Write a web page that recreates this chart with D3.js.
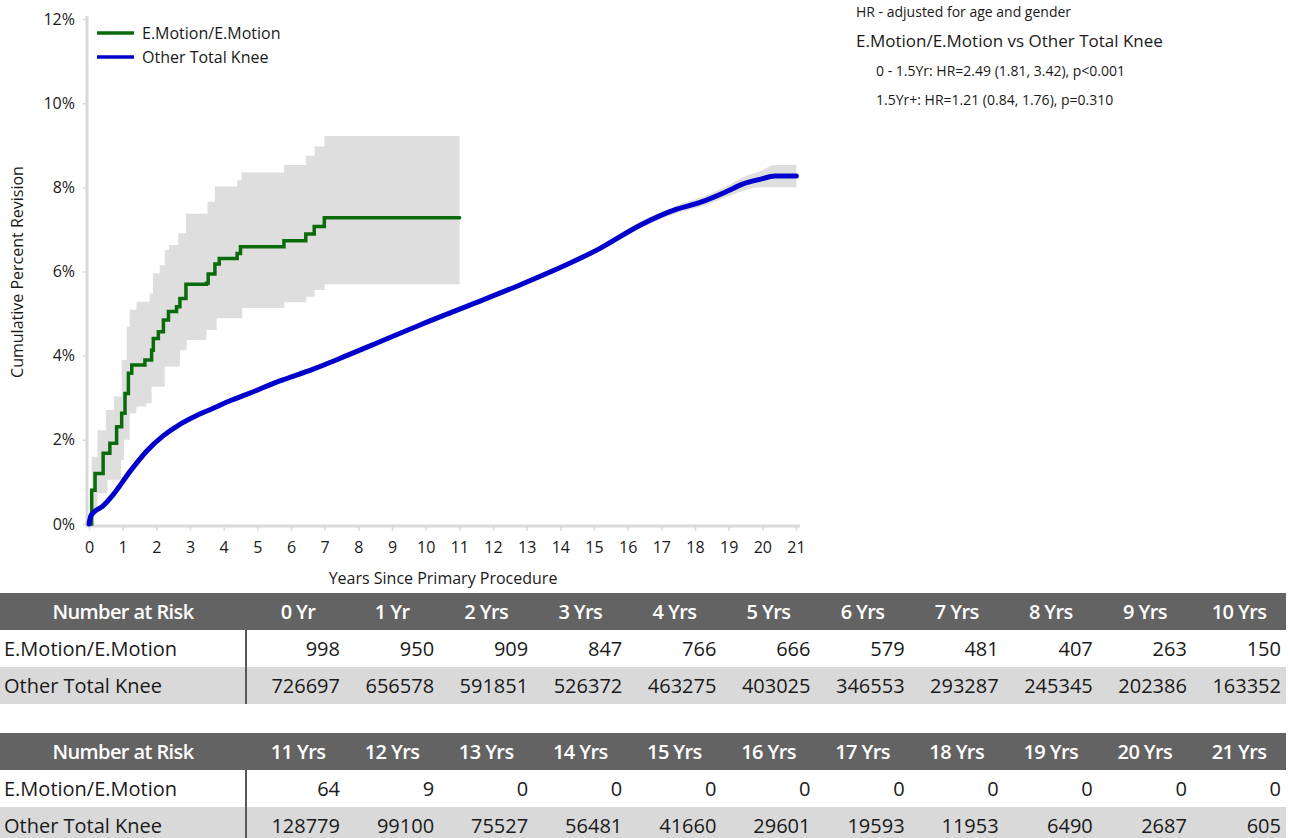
<!DOCTYPE html>
<html>
<head>
<meta charset="utf-8">
<script src="https://cdn.jsdelivr.net/npm/d3@7"></script>
<style>
  body { margin: 0; background: #fff; }
  svg text { font-family: "Open Sans", "Noto Sans", sans-serif; fill: #1a1a1a; }
</style>
</head>
<body>
<div id="chart"></div>
<script>
// E.Motion/E.Motion - step curve and its confidence band (years, % revised)
var emYears = [0, 0.08, 0.18, 0.42, 0.62, 0.82, 0.97, 1.07, 1.17, 1.27, 1.66, 1.86, 1.91, 2.06, 2.21, 2.36, 2.6, 2.7, 2.88, 3.49, 3.54, 3.74, 3.87, 4.4, 4.5, 5.79, 6.44, 6.69, 6.99, 11.01];
var emPct   = [0, 0.8, 1.2, 1.68, 1.92, 2.31, 2.63, 3.1, 3.58, 3.78, 3.9, 4.13, 4.41, 4.57, 4.85, 5.05, 5.16, 5.36, 5.7, 5.72, 5.94, 6.18, 6.31, 6.43, 6.59, 6.73, 6.89, 7.07, 7.28, 7.28];
var emUpYears = [0, 0.08, 0.25, 0.5, 0.74, 0.97, 1.12, 1.21, 1.41, 1.8, 1.9, 2.1, 2.25, 2.38, 2.65, 2.88, 3.52, 3.74, 4.4, 4.53, 5.79, 6.44, 6.7, 6.99, 11.01];
var emUpPct   = [0, 1.6, 2.23, 2.71, 3.03, 3.9, 4.69, 5.09, 5.28, 5.48, 5.96, 6.15, 6.51, 6.63, 6.91, 7.37, 7.66, 8.02, 8.17, 8.35, 8.53, 8.75, 8.97, 9.22, 9.22];
var emLoYears = [0, 0.08, 0.25, 0.55, 0.95, 1.04, 1.21, 1.41, 1.7, 1.86, 2.25, 2.7, 2.9, 3.49, 3.79, 4.55, 5.8, 6.46, 6.7, 7.0, 11.01];
var emLoPct   = [0, 0.26, 0.73, 1.05, 1.52, 2.0, 2.63, 2.79, 2.87, 3.26, 3.74, 4.13, 4.37, 4.61, 4.89, 5.13, 5.27, 5.4, 5.56, 5.7, 5.7];

// Other Total Knee - smooth curve with narrow band
var otkYears = [0, 0.05, 0.13, 0.4, 0.72, 1.22, 1.71, 2.21, 2.7, 3.2, 3.69, 4.19, 4.68, 5.67, 6.66, 7.65, 8.64, 9.83, 11.31, 12.8, 14.29, 15.18, 16.37, 17.46, 18.15, 18.94, 19.43, 19.93, 20.37, 21.01];
var otkPct   = [0, 0.18, 0.27, 0.42, 0.7, 1.25, 1.73, 2.1, 2.37, 2.58, 2.75, 2.93, 3.08, 3.4, 3.68, 4.0, 4.33, 4.73, 5.2, 5.68, 6.2, 6.55, 7.1, 7.48, 7.64, 7.9, 8.08, 8.19, 8.27, 8.27];
var otkLo    = [0, 0.15, 0.24, 0.39, 0.67, 1.22, 1.7, 2.07, 2.34, 2.55, 2.72, 2.9, 3.05, 3.37, 3.65, 3.97, 4.3, 4.7, 5.16, 5.63, 6.14, 6.48, 7.02, 7.39, 7.53, 7.77, 7.92, 8.0, 8.0, 8.0];
var otkHi    = [0, 0.21, 0.3, 0.45, 0.73, 1.28, 1.76, 2.13, 2.4, 2.61, 2.78, 2.96, 3.11, 3.43, 3.71, 4.03, 4.36, 4.76, 5.24, 5.73, 6.26, 6.62, 7.18, 7.57, 7.75, 8.03, 8.24, 8.38, 8.53, 8.53];

var yTicks = [0, 2, 4, 6, 8, 10, 12];
var xTicks = d3.range(0, 22);

// number at risk table
var riskLabels = ["0 Yr", "1 Yr", "2 Yrs", "3 Yrs", "4 Yrs", "5 Yrs", "6 Yrs", "7 Yrs", "8 Yrs", "9 Yrs", "10 Yrs",
                  "11 Yrs", "12 Yrs", "13 Yrs", "14 Yrs", "15 Yrs", "16 Yrs", "17 Yrs", "18 Yrs", "19 Yrs", "20 Yrs", "21 Yrs"];
var emRisk  = [998, 950, 909, 847, 766, 666, 579, 481, 407, 263, 150, 64, 9, 0, 0, 0, 0, 0, 0, 0, 0, 0];
var otkRisk = [726697, 656578, 591851, 526372, 463275, 403025, 346553, 293287, 245345, 202386, 163352,
               128779, 99100, 75527, 56481, 41660, 29601, 19593, 11953, 6490, 2687, 605];

var hrLines = ["0 - 1.5Yr: HR=2.49 (1.81, 3.42), p<0.001", "1.5Yr+: HR=1.21 (0.84, 1.76), p=0.310"];

var green = "#0a6b0a", blue = "#0000cc", band = "#dedede", axisGrey = "#d9d9d9";

var svg = d3.select("#chart").append("svg")
  .attr("width", 1290)
  .attr("height", 838);

var x = d3.scaleLinear().domain([0, 21]).range([89, 796]);
var y = d3.scaleLinear().domain([0, 12]).range([524, 19]);

// step value lookup for the band edges
function stepAt(years, vals, t) {
  var i = d3.bisectRight(years, t) - 1;
  return vals[Math.max(0, i)];
}
var bandYears = Array.from(new Set(emUpYears.concat(emLoYears))).sort(function(a, b) { return a - b; });
var emBand = bandYears.map(function(t) {
  return {t: t, lo: stepAt(emLoYears, emLoPct, t), hi: stepAt(emUpYears, emUpPct, t)};
});

svg.append("path")
  .datum(emBand)
  .attr("fill", band)
  .attr("d", d3.area().curve(d3.curveStepAfter)
    .x(function(d) { return x(d.t); })
    .y0(function(d) { return y(d.lo); })
    .y1(function(d) { return y(d.hi); }));

var otkData = otkYears.map(function(t, i) {
  return {t: t, v: otkPct[i], lo: otkLo[i], hi: otkHi[i]};
});

svg.append("path")
  .datum(otkData)
  .attr("fill", band)
  .attr("d", d3.area().curve(d3.curveMonotoneX)
    .x(function(d) { return x(d.t); })
    .y0(function(d) { return y(d.lo); })
    .y1(function(d) { return y(d.hi); }));

// axes
var xAxis = svg.append("g")
  .attr("transform", "translate(0," + 526 + ")")
  .call(d3.axisBottom(x).tickValues(xTicks).tickSize(5).tickSizeOuter(0).tickPadding(11));
xAxis.select(".domain").attr("stroke", axisGrey).attr("stroke-width", 3)
  .attr("d", "M86,0H800");
xAxis.selectAll(".tick line").attr("stroke", axisGrey).attr("stroke-width", 1.5);
xAxis.selectAll(".tick text").style("font-size", "16px").attr("fill", "#1a1a1a");

var yAxis = svg.append("g")
  .attr("transform", "translate(" + 87 + ",0)")
  .call(d3.axisLeft(y).tickValues(yTicks).tickSize(4).tickSizeOuter(0).tickPadding(8)
    .tickFormat(function(d) { return d + "%"; }));
yAxis.select(".domain").attr("stroke", axisGrey).attr("stroke-width", 3)
  .attr("d", "M0,16V527");
yAxis.selectAll(".tick line").attr("stroke", axisGrey).attr("stroke-width", 1.5);
yAxis.selectAll(".tick text").style("font-size", "16px").attr("fill", "#1a1a1a");

svg.append("text")
  .attr("x", 443).attr("y", 584)
  .attr("text-anchor", "middle")
  .style("font-size", "16px")
  .text("Years Since Primary Procedure");

svg.append("text")
  .attr("transform", "translate(23,272) rotate(-90)")
  .attr("text-anchor", "middle")
  .style("font-size", "16px")
  .text("Cumulative Percent Revision");

// curves
var emData = emYears.map(function(t, i) { return {t: t, v: emPct[i]}; });
svg.append("path")
  .datum(emData)
  .attr("fill", "none")
  .attr("stroke", green)
  .attr("stroke-width", 3.5)
  .attr("stroke-linecap", "round")
  .attr("d", d3.line().curve(d3.curveStepAfter)
    .x(function(d) { return x(d.t); })
    .y(function(d) { return y(d.v); }));

svg.append("path")
  .datum(otkData)
  .attr("fill", "none")
  .attr("stroke", blue)
  .attr("stroke-width", 5)
  .attr("stroke-linecap", "round")
  .attr("d", d3.line().curve(d3.curveMonotoneX)
    .x(function(d) { return x(d.t); })
    .y(function(d) { return y(d.v); }));

// legend
var legend = [{name: "E.Motion/E.Motion", color: green}, {name: "Other Total Knee", color: blue}];
var lg = svg.selectAll(".legend").data(legend).enter().append("g")
  .attr("transform", function(d, i) { return "translate(97," + (33 + i * 24) + ")"; });
lg.append("line").attr("x1", 0).attr("x2", 37)
  .attr("stroke", function(d) { return d.color; }).attr("stroke-width", 3.5);
lg.append("text").attr("x", 45).attr("y", 6)
  .style("font-size", "16px")
  .text(function(d) { return d.name; });

// hazard ratio text
svg.append("text").attr("x", 856).attr("y", 17).style("font-size", "14px")
  .text("HR - adjusted for age and gender");
svg.append("text").attr("x", 856).attr("y", 47).style("font-size", "17px")
  .text("E.Motion/E.Motion vs Other Total Knee");
svg.selectAll(".hr").data(hrLines).enter().append("text")
  .attr("x", 876).attr("y", function(d, i) { return 76 + i * 29; })
  .style("font-size", "14px")
  .text(function(d) { return d; });

// number at risk tables
function drawTable(top, from) {
  var g = svg.append("g").attr("transform", "translate(0," + top + ")");
  var rowH = 37;
  g.append("rect").attr("x", 0).attr("y", 0).attr("width", 1286).attr("height", rowH).attr("fill", "#636363");
  g.append("rect").attr("x", 0).attr("y", rowH * 2).attr("width", 1286).attr("height", rowH).attr("fill", "#d9d9d9");
  g.append("line").attr("x1", 246).attr("x2", 246).attr("y1", rowH).attr("y2", rowH * 3)
    .attr("stroke", "#595959").attr("stroke-width", 2);

  g.append("text").attr("x", 123).attr("y", rowH / 2).attr("dy", "0.35em")
    .attr("text-anchor", "middle")
    .style("font-size", "20px").style("font-weight", 600).style("fill", "#fff")
    .attr("letter-spacing", "-0.6")
    .text("Number at Risk");
  g.append("text").attr("x", 4).attr("y", rowH * 1.5).attr("dy", "0.35em")
    .style("font-size", "20px").text("E.Motion/E.Motion");
  g.append("text").attr("x", 4).attr("y", rowH * 2.5).attr("dy", "0.35em")
    .style("font-size", "20px").text("Other Total Knee");

  var idx = d3.range(from, from + 11);
  var colRight = function(i) { return 340 + 94.1 * (i - from); };
  g.selectAll(".hd").data(idx).enter().append("text")
    .attr("x", function(i) { return colRight(i) - 42; })
    .attr("y", rowH / 2).attr("dy", "0.35em")
    .attr("text-anchor", "middle")
    .style("font-size", "20px").style("font-weight", 600).style("fill", "#fff")
    .attr("letter-spacing", "-0.6")
    .text(function(i) { return riskLabels[i]; });
  g.selectAll(".em").data(idx).enter().append("text")
    .attr("x", colRight).attr("y", rowH * 1.5).attr("dy", "0.35em")
    .attr("text-anchor", "end").style("font-size", "20px")
    .text(function(i) { return emRisk[i]; });
  g.selectAll(".otk").data(idx).enter().append("text")
    .attr("x", colRight).attr("y", rowH * 2.5).attr("dy", "0.35em")
    .attr("text-anchor", "end").style("font-size", "20px")
    .text(function(i) { return otkRisk[i]; });
}
drawTable(593, 0);
drawTable(733, 11);
</script>
</body>
</html>
